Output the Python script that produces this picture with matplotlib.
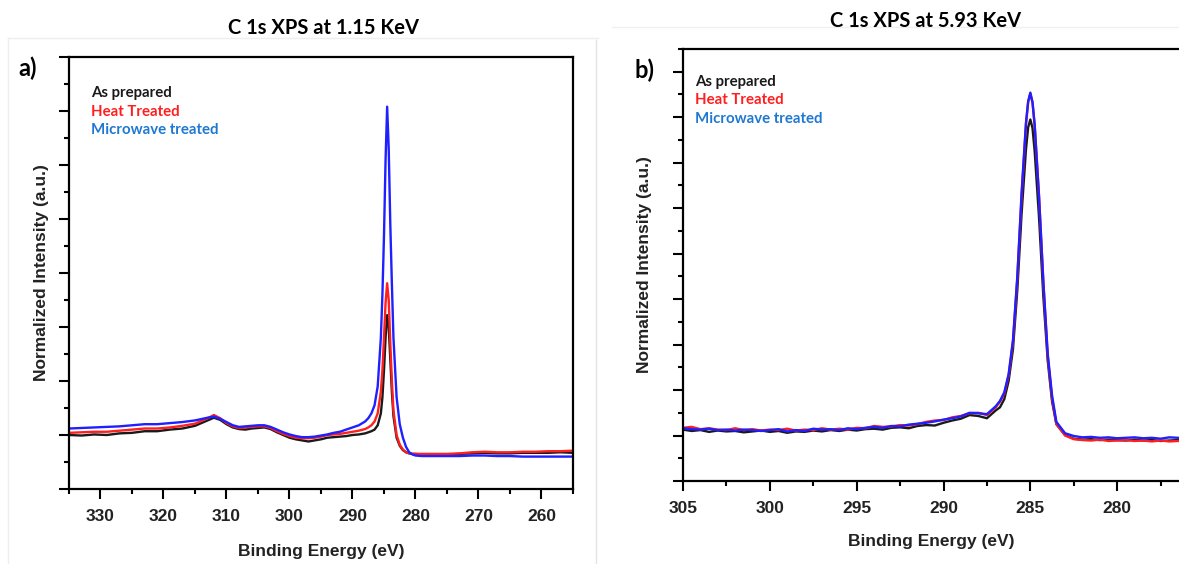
import matplotlib
matplotlib.use("Agg")
import matplotlib.pyplot as plt
from matplotlib.ticker import MultipleLocator, NullFormatter
from matplotlib.lines import Line2D

# ---- panel a: C 1s XPS at 1.15 keV ----
energy_a = [335, 333, 331, 329, 327, 325, 323, 321, 319, 317, 315, 313,
            312, 311, 310, 309, 308, 307, 306, 305, 304, 303, 302, 301, 300,
            299, 298, 297, 296, 295, 294, 293, 292, 291, 290, 289, 288,
            287.5, 287, 286.5, 286, 285.5,
            285.25, 285, 284.75, 284.5, 284.25, 284, 283.75, 283.5,
            283, 282.5, 282, 281.5, 281, 280.5, 280,
            279, 277, 275, 273, 271, 269, 267, 265, 263, 261, 259, 257, 255]

as_prepared_a = [1.00, 0.99, 1.01, 1.00, 1.03, 1.04, 1.07, 1.07, 1.10, 1.12, 1.17, 1.27,
                 1.32, 1.28, 1.20, 1.14, 1.11, 1.10, 1.12, 1.13, 1.14, 1.11, 1.05, 1.00, 0.95,
                 0.92, 0.90, 0.88, 0.90, 0.92, 0.95, 0.96, 0.97, 0.98, 1.00, 1.01, 1.03,
                 1.05, 1.07, 1.10, 1.18, 1.40,
                 1.70, 2.20, 2.80, 3.22, 3.00, 2.40, 1.80, 1.35,
                 0.95, 0.80, 0.72, 0.68, 0.66, 0.65, 0.65,
                 0.64, 0.64, 0.64, 0.65, 0.66, 0.67, 0.66, 0.66, 0.67, 0.67, 0.67, 0.68, 0.67]

heat_treated_a = [1.04, 1.05, 1.06, 1.06, 1.08, 1.10, 1.12, 1.12, 1.14, 1.17, 1.21, 1.31,
                  1.37, 1.31, 1.22, 1.16, 1.13, 1.14, 1.15, 1.16, 1.16, 1.13, 1.07, 1.02, 0.98,
                  0.95, 0.94, 0.94, 0.95, 0.97, 1.00, 1.01, 1.02, 1.04, 1.06, 1.08, 1.11,
                  1.14, 1.18, 1.25, 1.40, 1.80,
                  2.20, 2.80, 3.45, 3.81, 3.50, 2.70, 2.00, 1.45,
                  1.00, 0.82, 0.73, 0.68, 0.66, 0.65, 0.65,
                  0.65, 0.65, 0.65, 0.66, 0.68, 0.69, 0.68, 0.68, 0.69, 0.69, 0.70, 0.70, 0.71]

microwave_a = [1.12, 1.13, 1.14, 1.15, 1.16, 1.18, 1.20, 1.20, 1.22, 1.24, 1.27, 1.32,
               1.34, 1.30, 1.24, 1.18, 1.15, 1.16, 1.17, 1.18, 1.18, 1.15, 1.10, 1.05, 1.01,
               0.98, 0.96, 0.96, 0.97, 0.99, 1.01, 1.04, 1.06, 1.10, 1.14, 1.18, 1.25,
               1.31, 1.40, 1.55, 1.90, 2.80,
               3.60, 4.70, 6.10, 7.08, 6.30, 4.90, 3.80, 2.80,
               1.70, 1.20, 0.95, 0.78, 0.68, 0.64, 0.62,
               0.61, 0.61, 0.61, 0.61, 0.62, 0.62, 0.61, 0.61, 0.60, 0.60, 0.60, 0.60, 0.60]

# ---- panel b: C 1s XPS at 5.93 keV ----
energy_b = [305.0, 304.5, 304.0, 303.5, 303.0, 302.5, 302.0, 301.5, 301.0, 300.5, 300.0,
            299.5, 299.0, 298.5, 298.0, 297.5, 297.0, 296.5, 296.0, 295.5, 295.0,
            294.5, 294.0, 293.5, 293.0, 292.5, 292.0, 291.5, 291.0, 290.5, 290.0,
            289.5, 289.0,
            288.5, 288.0, 287.5, 287.0, 286.75, 286.5, 286.25, 286.0, 285.75,
            285.5, 285.25, 285.125, 285.0, 284.875, 284.75, 284.5, 284.25, 284.0, 283.75, 283.5,
            283.0, 282.5, 282.0, 281.5, 281.0, 280.5, 280.0, 279.5, 279.0,
            278.5, 278.0, 277.5, 277.0, 276.5, 276.0]

as_prepared_b = [1.13, 1.10, 1.12, 1.08, 1.11, 1.09, 1.10, 1.07, 1.09, 1.11, 1.08,
                 1.10, 1.06, 1.09, 1.08, 1.11, 1.09, 1.12, 1.10, 1.13, 1.11,
                 1.14, 1.15, 1.13, 1.17, 1.18, 1.16, 1.21, 1.23, 1.22, 1.28,
                 1.33, 1.37,
                 1.45, 1.43, 1.38, 1.55, 1.62, 1.80, 2.20, 2.90, 4.20,
                 5.90, 7.30, 7.78, 7.95, 7.76, 7.25, 5.80, 4.05, 2.65, 1.75, 1.25,
                 1.01, 0.93, 0.91, 0.92, 0.90, 0.91, 0.90, 0.89, 0.91,
                 0.89, 0.90, 0.88, 0.89, 0.90, 0.88]

heat_treated_b = [1.17, 1.19, 1.14, 1.16, 1.13, 1.12, 1.16, 1.12, 1.14, 1.11, 1.13,
                  1.12, 1.15, 1.11, 1.13, 1.12, 1.16, 1.13, 1.15, 1.13, 1.17,
                  1.16, 1.21, 1.19, 1.20, 1.23, 1.22, 1.25, 1.30, 1.33, 1.34,
                  1.40, 1.43,
                  1.49, 1.50, 1.45, 1.62, 1.74, 1.92, 2.32, 3.05, 4.45,
                  6.30, 7.85, 8.33, 8.52, 8.32, 7.82, 6.28, 4.35, 2.75, 1.82, 1.25,
                  1.00, 0.92, 0.90, 0.89, 0.91, 0.88, 0.89, 0.90, 0.88,
                  0.89, 0.87, 0.89, 0.87, 0.88, 0.87]

microwave_b = [1.16, 1.14, 1.13, 1.15, 1.12, 1.13, 1.11, 1.13, 1.12, 1.10, 1.12,
               1.14, 1.09, 1.12, 1.10, 1.15, 1.13, 1.14, 1.12, 1.16, 1.14,
               1.17, 1.19, 1.17, 1.21, 1.20, 1.24, 1.26, 1.28, 1.31, 1.35,
               1.38, 1.42,
               1.50, 1.49, 1.47, 1.64, 1.76, 1.95, 2.35, 3.10, 4.50,
               6.35, 7.88, 8.35, 8.54, 8.33, 7.83, 6.25, 4.38, 2.80, 1.88, 1.30,
               1.05, 0.99, 0.96, 0.97, 0.95, 0.96, 0.94, 0.95, 0.96,
               0.94, 0.95, 0.93, 0.96, 0.95, 0.94]

series_names = ["As prepared", "Heat Treated", "Microwave treated"]
line_colors = ["#1a1a1a", "#ff1f1f", "#1f1fff"]
text_colors = ["#1a1a1a", "#ff1f1f", "#1f78d1"]

W, H = 1179, 564
fig = plt.figure(figsize=(W / 100, H / 100), dpi=100)

label_font = {"family": "Liberation Sans", "weight": "bold"}
title_font = ["Lato", "DejaVu Sans"]


def px(x, y):
    # pixel position (from top-left) to figure fraction
    return x / W, 1 - y / H


def style_axes(ax, xmaj, xmin):
    for side in ["left", "bottom", "top", "right"]:
        ax.spines[side].set_linewidth(1.6)
    ax.xaxis.set_major_locator(MultipleLocator(xmaj))
    ax.xaxis.set_minor_locator(MultipleLocator(xmin))
    ax.yaxis.set_major_locator(MultipleLocator(1))
    ax.yaxis.set_minor_locator(MultipleLocator(0.5))
    ax.yaxis.set_major_formatter(NullFormatter())
    ax.tick_params(which="major", direction="out", length=7.5, width=1.5, labelsize=12.5, pad=7)
    ax.tick_params(which="minor", direction="out", length=3.8, width=1.5)
    ax.tick_params(axis="x", which="both", top=False)
    ax.tick_params(axis="y", which="both", right=False)
    for lab in ax.get_xticklabels():
        lab.set_fontfamily("Liberation Sans")
        lab.set_fontweight("bold")
        lab.set_color("#222222")
    ax.set_xlabel("Binding Energy (eV)", fontdict=label_font, fontsize=12.5, color="#222222")
    ax.set_ylabel("Normalized Intensity (a.u.)", fontdict=label_font, fontsize=12.5, color="#222222")


# panel a
ax1 = fig.add_axes([69 / W, 1 - 489 / H, (573 - 69) / W, (489 - 57) / H])
for ys, c in zip([as_prepared_a, heat_treated_a, microwave_a], line_colors):
    ax1.plot(energy_a, ys, color=c, lw=1.7)
ax1.set_xlim(335, 255)
ax1.set_ylim(0, 8)
style_axes(ax1, 10, 5)
ax1.xaxis.labelpad = 14
ax1.yaxis.labelpad = 0

# panel b
ax2 = fig.add_axes([683 / W, 1 - 481 / H, (W - 683) / W, (481 - 49) / H])
for ys, c in zip([as_prepared_b, heat_treated_b, microwave_b], line_colors):
    ax2.plot(energy_b, ys, color=c, lw=1.7)
ax2.set_xlim(305, 276.44)
ax2.set_ylim(0, 9.5)
style_axes(ax2, 5, 2.5)
ax2.spines["right"].set_visible(False)
ax2.xaxis.labelpad = 13
ax2.yaxis.labelpad = 8

# titles and panel letters
fig.text(*px(324, 28), "C 1s XPS at 1.15 KeV", family=title_font, weight="bold",
         fontsize=14.5, ha="center", va="center")
fig.text(*px(926, 21), "C 1s XPS at 5.93 KeV", family=title_font, weight="bold",
         fontsize=14.5, ha="center", va="center")
fig.text(*px(18, 68), "a)", family=title_font, weight="bold", fontsize=17, ha="left", va="center")
fig.text(*px(635, 70), "b)", family=title_font, weight="bold", fontsize=17, ha="left", va="center")

# coloured legend texts
for i, (name, c) in enumerate(zip(series_names, text_colors)):
    fig.text(*px(91, 93 + 18.5 * i), name, family=title_font, weight="bold",
             fontsize=10.8, color=c, ha="left", va="center")
    fig.text(*px(695, 82 + 18.5 * i), name, family=title_font, weight="bold",
             fontsize=10.8, color=c, ha="left", va="center")

# faint frame lines of the two pasted panels
fig.add_artist(Line2D([8 / W, 598 / W], [1 - 38 / H, 1 - 38 / H], color="#eeeeee", lw=1))
fig.add_artist(Line2D([8 / W, 8 / W], [0, 1 - 38 / H], color="#eeeeee", lw=1))
fig.add_artist(Line2D([596 / W, 596 / W], [0, 1 - 40 / H], color="#e4e4e4", lw=1))
fig.add_artist(Line2D([612 / W, 1], [1 - 27 / H, 1 - 27 / H], color="#f0f0f0", lw=1))

fig.savefig("out.png", dpi=100)
